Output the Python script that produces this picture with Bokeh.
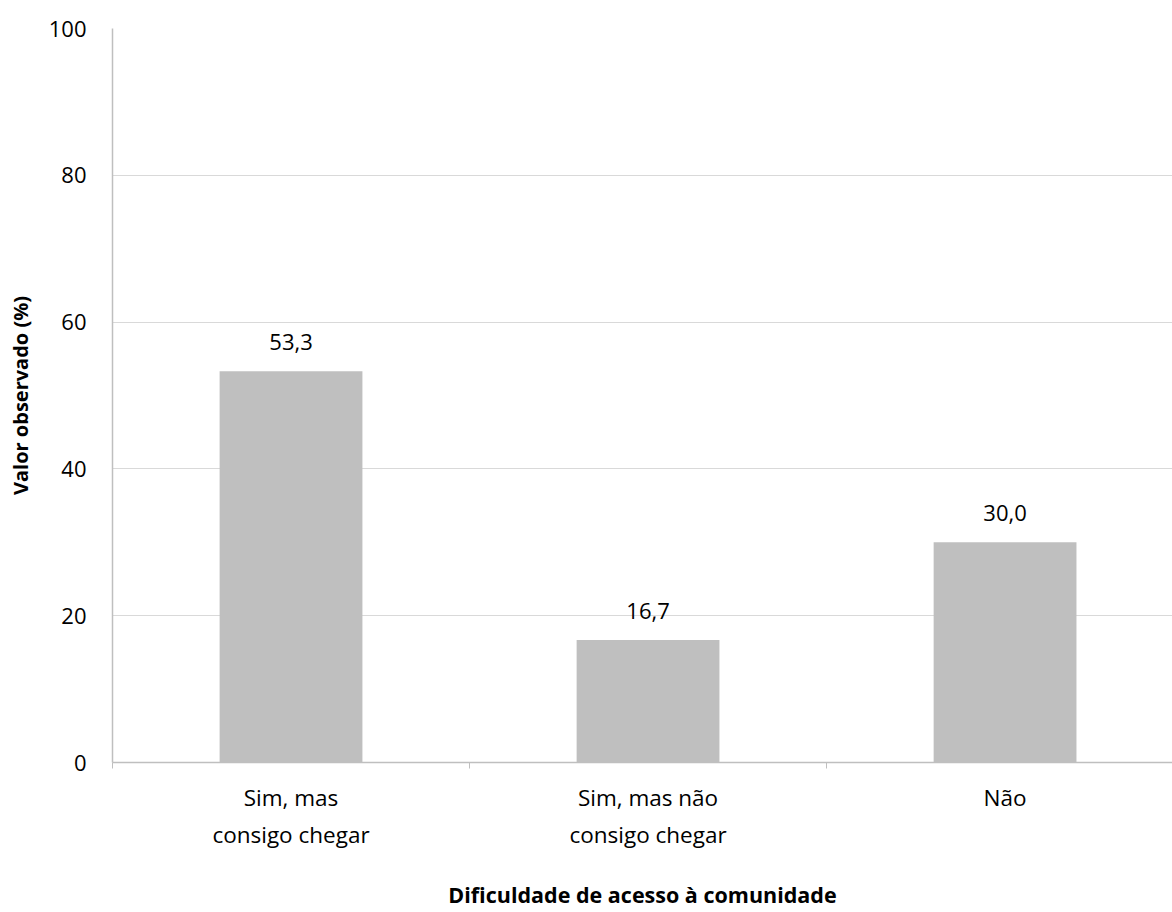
from bokeh.plotting import figure
from bokeh.models import ColumnDataSource, Range1d, FixedTicker, LinearAxis
from bokeh.embed import file_html
from bokeh.resources import INLINE
from bokeh.core.properties import value

categories = ["Sim, mas\nconsigo chegar", "Sim, mas não\nconsigo chegar", "Não"]
values = [53.3, 16.7, 30.0]
y_ticks = [0, 20, 40, 60, 80, 100]

FONT = "Open Sans"
xpos = [i + 0.5 for i in range(len(categories))]
labels = [f"{v:.1f}".replace(".", ",") for v in values]

src = ColumnDataSource(dict(x=xpos, top=values, lab=labels))

p = figure(width=1172, height=912, output_backend="svg", toolbar_location=None,
           x_range=Range1d(0, 2.969), y_range=Range1d(0, 100),
           x_axis_type=None, min_border_left=112, min_border_right=0,
           min_border_top=28, min_border_bottom=150)
p.outline_line_color = None
p.background_fill_color = "white"

p.vbar(x="x", top="top", width=0.4, bottom=0, source=src,
       fill_color="#BFBFBF", line_color=None)

p.text(x="x", y="top", text="lab", source=src, text_align="center",
       text_baseline="middle", y_offset=-29, text_font=value(FONT),
       text_font_size="22px", text_color="#000000")

# x axis
xa = LinearAxis(ticker=FixedTicker(ticks=xpos, minor_ticks=[0, 1, 2, 3]))
xa.major_label_overrides = {x: c for x, c in zip(xpos, categories)}
xa.major_tick_out = 0
xa.major_tick_in = 0
xa.minor_tick_out = 6
xa.minor_tick_in = 0
xa.minor_tick_line_color = "#BFBFBF"
xa.axis_line_color = "#BFBFBF"
xa.axis_line_width = 1.5
xa.major_label_text_font = FONT
xa.major_label_text_font_size = "22.5px"
xa.major_label_text_color = "#000000"
xa.major_label_standoff = 13
xa.axis_label = "Dificuldade de acesso à comunidade"
xa.axis_label_text_font = FONT
xa.axis_label_text_font_style = "bold"
xa.axis_label_text_font_size = "21.5px"
xa.axis_label_text_color = "#000000"
xa.axis_label_standoff = 27
p.add_layout(xa, "below")

ya = p.yaxis[0]
ya.ticker = FixedTicker(ticks=y_ticks)
ya.minor_tick_line_color = None
ya.major_tick_out = 0
ya.major_tick_in = 0
ya.axis_line_color = "#BFBFBF"
ya.axis_line_width = 1.5
ya.major_label_text_font = FONT
ya.major_label_text_font_size = "22px"
ya.major_label_text_color = "#000000"
ya.major_label_standoff = 26
ya.axis_label = "Valor observado (%)"
ya.axis_label_text_font = FONT
ya.axis_label_text_font_style = "bold"
ya.axis_label_text_font_size = "20px"
ya.axis_label_text_color = "#000000"
ya.axis_label_standoff = 12

p.xgrid.grid_line_color = None
p.ygrid.grid_line_color = "#D9D9D9"
p.ygrid.grid_line_width = 1.2

open("out.html", "w").write(file_html(p, INLINE))
